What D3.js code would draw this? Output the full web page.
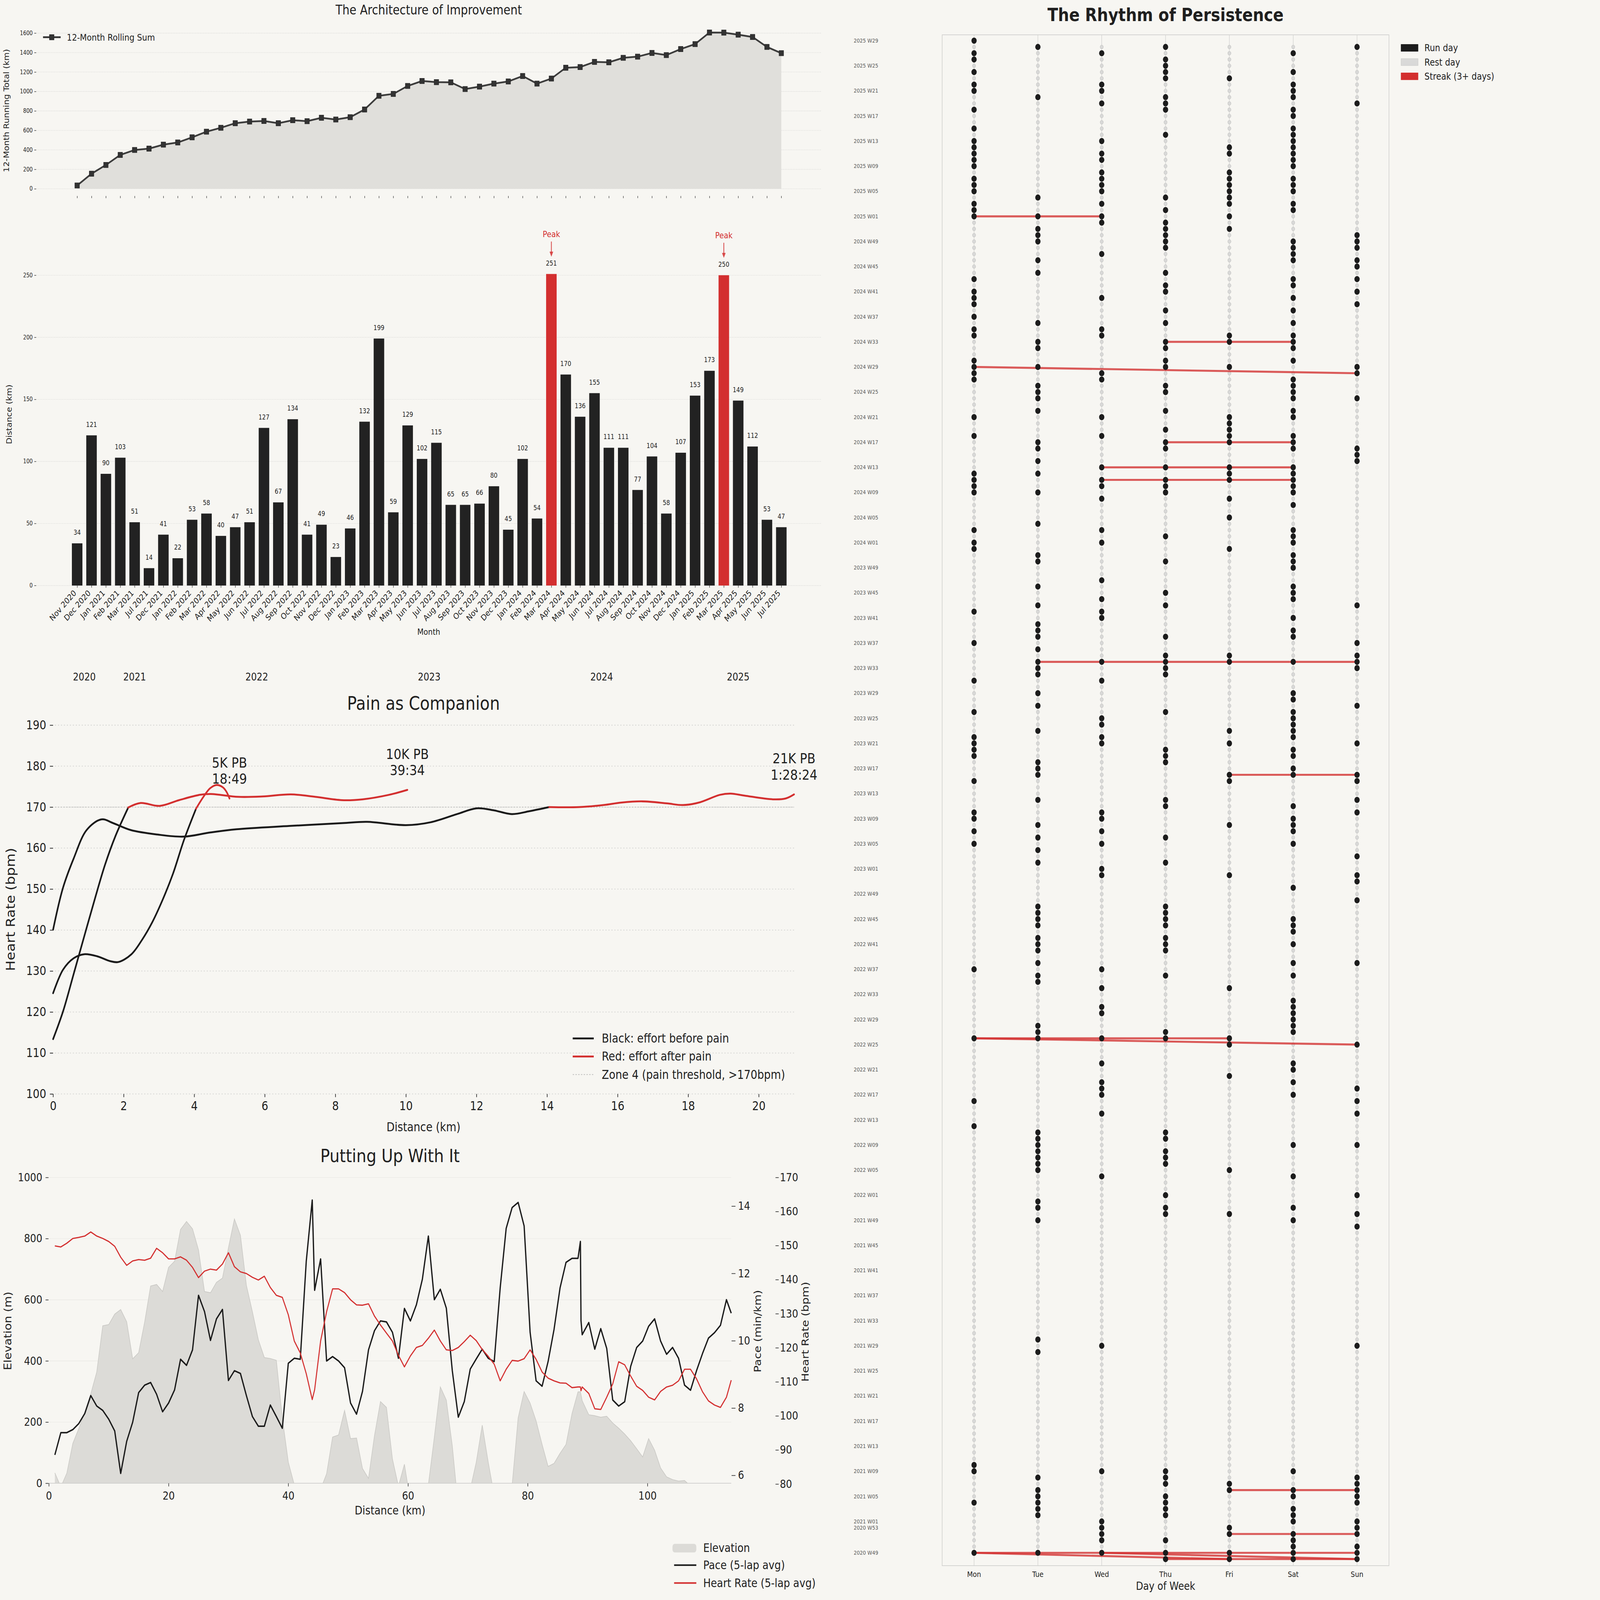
<!DOCTYPE html>
<html>
<head>
<meta charset="utf-8">
<script src="https://cdn.jsdelivr.net/npm/d3@7"></script>
<style>
  html, body { margin: 0; padding: 0; background: #f7f6f2; overflow: hidden; }
  #container svg { display: block; width: 100vw; height: 100vh; }
</style>
</head>
<body>
<div id="container"></div>
<script>
/* CONSTANTS AND GLOBALS */
const width = 6990, height = 6017;
const bg = "#f7f6f2", ink = "#1f1f1f", red = "#d32f2f", gridCol = "#d6d6d4";
const font = "'DejaVu Sans', 'Liberation Sans', sans-serif";

/* DATA: monthly distance */
const months = ["Nov 2020","Dec 2020","Jan 2021","Feb 2021","Mar 2021","Jul 2021","Dec 2021","Jan 2022","Feb 2022","Mar 2022",
  "Apr 2022","May 2022","Jun 2022","Jul 2022","Aug 2022","Sep 2022","Oct 2022","Nov 2022","Dec 2022","Jan 2023",
  "Feb 2023","Mar 2023","Apr 2023","May 2023","Jun 2023","Jul 2023","Aug 2023","Sep 2023","Oct 2023","Nov 2023",
  "Dec 2023","Jan 2024","Feb 2024","Mar 2024","Apr 2024","May 2024","Jun 2024","Jul 2024","Aug 2024","Sep 2024",
  "Oct 2024","Nov 2024","Dec 2024","Jan 2025","Feb 2025","Mar 2025","Apr 2025","May 2025","Jun 2025","Jul 2025"];
const monthlyKm = [34,121,90,103,51,14,41,22,53,58,40,47,51,127,67,134,41,49,23,46,
  132,199,59,129,102,115,65,65,66,80,45,102,54,251,170,136,155,111,111,77,
  104,58,107,153,173,250,149,112,53,47];
const rollingKm = [34,155,245,348,399,413,454,476,529,587,627,674,691,697,674,705,695,730,712,736,
  815,956,975,1057,1108,1096,1094,1025,1050,1081,1103,1159,1081,1133,1244,1251,1304,1300,1346,1358,
  1396,1374,1436,1487,1606,1605,1584,1560,1458,1394];
const peakMonths = ["Mar 2024","Mar 2025"];
const rollingTicks = [0,200,400,600,800,1000,1200,1400,1600];
const distanceTicks = [0,50,100,150,200,250];

/* DATA: heart rate over distance for the three PB runs */
const pb5kBefore = [[0,124.6],[0.28,130.3],[0.58,133.1],[0.88,134.1],[1.25,133.6],[1.62,132.4],[1.85,132.2],[2.22,134.1],
  [2.52,137.6],[2.81,141.9],[3.11,147.5],[3.4,153.8],[3.71,162.0],[4.05,169.6]];
const pb5kAfter = [[4.05,169.6],[4.26,172.5],[4.45,174.6],[4.63,175.4],[4.8,174.9],[4.91,173.8],[5.0,172.1]];
const pb10kBefore = [[0,113.4],[0.28,120.1],[0.58,129.2],[0.88,138.4],[1.18,147.5],[1.47,155.9],[1.77,163],[2.13,169.9]];
const pb10kAfter = [[2.13,169.9],[2.48,171.0],[3.02,170.3],[3.57,171.7],[4.16,173.0],[4.47,173.2],[5.25,172.5],[5.94,172.6],
  [6.74,173.1],[7.43,172.5],[8.18,171.7],[8.77,171.9],[9.52,173.0],[10.04,174.2]];
const pb21kBefore = [[0,140.1],[0.28,150.3],[0.58,157.4],[0.95,164.4],[1.37,167.0],[1.7,166.1],[2.2,164.4],[2.96,163.3],
  [3.71,162.8],[4.45,163.8],[5.2,164.6],[6.7,165.4],[8.2,166.1],[8.9,166.4],[10.0,165.6],[10.7,166.3],[11.45,168.3],
  [12.0,169.7],[12.5,169.2],[13.0,168.3],[13.5,169.0],[14.06,170]];
const pb21kAfter = [[14.06,170],[14.9,170],[15.6,170.5],[16.1,171.1],[16.7,171.4],[17.4,170.9],[17.85,170.5],[18.3,171.1],
  [18.9,173.0],[19.2,173.3],[19.6,172.8],[20.4,171.9],[20.76,172.1],[21.0,173.1]];
const pbNames = ["5K PB","10K PB","21K PB"];
const pbTimes = ["18:49","39:34","1:28:24"];
const zoneThreshold = 170;
const hrTicks = [100,110,120,130,140,150,160,170,180,190];
const kmTicks = [0,2,4,6,8,10,12,14,16,18,20];

/* DATA: ultra laps */
const lapKm = [1,2,3,4,5,6,7,8,9,10,11,12,13,14,15,16,17,18,19,20,21,22,23,24,25,26,27,28,29,30,
  31,32,33,34,35,36,37,38,39,40,41,42,43,44,
  44.4,45.4,46.4,47.4,48.4,49.4,50.4,51.4,52.4,53.4,54.4,55.4,56.4,57.4,58.4,59.4,60.4,61.4,62.4,63.4,
  64.4,65.4,66.4,67.4,68.4,69.4,70.4,71.4,72.4,73.4,74.4,75.4,76.4,77.4,78.4,79.4,80.4,81.4,82.4,83.4,
  84.4,85.4,86.4,87.4,88.4,88.8,88.9,89.1,
  90.2,91.2,92.2,93.2,94.2,95.2,96.2,97.2,98.2,99.2,100.2,101.2,102.2,103.2,104.2,105.2,106.2,107.2,
  108.2,109.2,110.2,111.2,112.2,113.2,114];
const lapPace = [6.61,7.27,7.27,7.36,7.54,7.84,8.37,8.06,7.93,7.67,7.32,6.06,7.01,7.58,8.46,8.68,8.76,8.41,7.89,8.15,
  8.54,9.45,9.27,9.73,11.35,10.87,10.01,10.65,10.93,8.82,9.11,9.03,8.37,7.75,7.46,7.46,8.09,7.75,7.40,9.33,
  9.48,9.45,12.36,14.18,
  11.5,12.43,9.40,9.53,9.40,9.2,8.15,7.82,8.5,9.73,10.3,10.59,10.56,10.25,9.48,10.96,10.59,11.07,11.83,13.11,
  11.22,11.53,10.97,9.11,7.73,8.19,9.16,9.46,9.75,9.48,9.38,11.57,13.34,13.96,14.11,13.41,10.25,8.81,8.65,9.38,
  10.34,11.57,12.33,12.45,12.45,12.95,10.6,10.18,
  10.54,9.75,10.36,9.77,8.24,8.06,8.19,9.24,9.8,9.99,10.43,10.65,9.99,9.6,9.8,9.48,8.68,8.53,
  9.11,9.62,10.08,10.24,10.46,11.22,10.82];
const lapHr = [149.9,149.6,150.7,152.1,152.4,152.8,154.0,152.8,152.1,151.2,149.8,146.6,144.2,145.5,145.9,145.7,146.3,149.2,147.9,146.1,
  146.1,146.7,145.7,143.6,140.6,142.5,143.1,142.8,144.6,147.9,143.8,142.3,141.8,140.7,139.9,141.0,137.7,135.4,134.8,129.7,
  122.0,118.5,112.4,104.8,
  107.7,122.0,130.6,137.3,137.3,136.2,134.1,132.6,132.5,132.9,129.3,126.7,124.3,122.0,117.8,114.4,117.6,120.1,120.7,122.8,
  125.2,122.0,119.4,119.2,120.1,121.8,123.7,122.1,119.5,117.5,115.2,110.3,113.7,116.3,116.1,116.8,119.4,116.6,112.9,111.1,
  110.3,109.7,109.6,108.3,108.5,108.5,107.4,108.5,
  106.6,102.1,101.9,105.5,109.4,115.9,115.0,111.7,108.7,107.5,105.5,104.7,107.2,108.5,109.0,110.3,113.7,113.7,
  110.9,107.1,104.4,103.2,102.5,105.5,110.5];
const lapElev = [34,-12,33,130,179,232,292,364,515,519,553,568,528,407,427,527,645,650,627,706,
  726,830,856,832,763,627,623,657,671,770,864,811,647,561,469,411,408,402,214,69,
  -5,-120,-150,-90,
  -60,-20,31,151,158,238,146,148,48,16,156,267,248,79,-10,62,-60,-90,-70,-5,
  151,315,272,122,-80,-90,-20,69,190,69,-40,-70,-40,-5,214,300,262,204,127,55,
  65,98,127,228,299,299,290,270,
  224,221,216,219,197,180,161,139,113,86,146,108,50,21,12,7,9,-9,
  -40,-60,-60,-50,-50,-50,-50];
const elevTicks = [0,200,400,600,800,1000];
const paceTicks = [6,8,10,12,14];
const lapHrTicks = [80,90,100,110,120,130,140,150,160,170];
const ultraKmTicks = [0,20,40,60,80,100];

/* DATA: run calendar (row 0 = 2025 W29 at the top, row 242 = 2020 W48 at the bottom) */
const days = ["Mon","Tue","Wed","Thu","Fri","Sat","Sun"];
const weekCount = 243;
const lastDayTopRow = 0;      // data ends on a Monday
const firstDayBottomRow = 3;  // data starts on a Thursday
const monRuns = [0,2,3,5,7,8,11,14,16,17,18,19,20,22,23,24,26,27,28,38,40,41,42,44,46,47,51,52,53,54,60,63,69,70,71,72,
  78,80,81,91,96,102,107,111,112,113,114,118,123,124,126,128,148,159,169,173,227,228,233,241];
const tueRuns = [1,9,25,28,30,31,32,35,37,45,48,49,52,55,56,57,59,64,65,67,69,72,77,82,83,87,90,93,94,95,97,99,100,101,
  104,106,110,115,116,117,121,125,127,129,131,138,139,140,141,143,144,145,147,149,150,157,158,159,174,175,176,177,178,
  179,180,185,186,188,207,209,229,231,232,233,234,235,241];
const wedRuns = [2,7,8,10,16,18,19,21,22,23,24,26,28,29,34,41,46,47,53,54,60,63,68,70,71,73,78,80,86,89,91,92,99,102,
  108,109,111,112,123,124,126,128,132,133,148,151,154,155,159,163,166,167,168,171,181,208,228,236,237,238,239,241];
const thuRuns = [1,3,4,5,6,9,10,11,15,25,27,29,30,31,32,33,37,39,40,43,45,48,49,51,52,55,56,59,62,64,65,68,70,71,72,
  79,83,88,90,95,98,99,100,101,107,113,114,115,121,122,127,131,138,139,140,141,143,144,145,149,158,159,174,175,177,
  178,179,184,186,187,228,229,230,232,233,234,235,239,241,242];
const friRuns = [6,17,18,21,22,23,24,25,26,28,30,47,48,52,60,61,62,63,64,68,69,70,73,76,81,98,99,110,112,117,118,125,
  133,151,159,160,165,180,187,230,231,237,238,241,242];
const satRuns = [2,5,7,8,9,11,12,14,15,16,17,18,19,20,22,23,24,26,27,32,33,34,35,38,39,41,43,45,47,48,49,51,54,55,56,
  57,59,60,63,64,65,68,69,70,71,72,74,78,79,80,82,83,84,87,88,89,92,94,95,99,104,105,107,108,109,110,111,113,114,116,
  117,122,124,125,126,128,135,140,141,142,144,147,149,153,154,155,156,157,158,163,164,166,168,176,181,186,188,228,
  231,232,234,235,236,238,239,240,241,242];
const sunRuns = [1,10,31,32,33,35,36,38,40,42,52,53,57,65,66,67,90,96,98,99,100,106,112,117,118,121,123,130,133,134,
  137,147,160,167,169,171,176,184,187,189,208,229,230,231,232,233,236,237,238,240,241,242];
// streaks: [start day, start row, end day, end row]
const streaks = [[0,28,2,28],[3,48,5,48],[0,52,6,53],[3,64,5,64],[2,68,5,68],[2,70,5,70],[1,99,6,99],[4,117,6,117],
  [0,159,4,159],[0,159,6,160],[4,231,6,231],[4,238,6,238],[0,241,6,241],[0,241,4,242],[2,241,6,242],[3,242,6,242]];
const weekTickLabels = ["2025 W29","2025 W25","2025 W21","2025 W17","2025 W13","2025 W09","2025 W05","2025 W01",
  "2024 W49","2024 W45","2024 W41","2024 W37","2024 W33","2024 W29","2024 W25","2024 W21","2024 W17","2024 W13","2024 W09","2024 W05","2024 W01",
  "2023 W49","2023 W45","2023 W41","2023 W37","2023 W33","2023 W29","2023 W25","2023 W21","2023 W17","2023 W13","2023 W09","2023 W05","2023 W01",
  "2022 W49","2022 W45","2022 W41","2022 W37","2022 W33","2022 W29","2022 W25","2022 W21","2022 W17","2022 W13","2022 W09","2022 W05","2022 W01",
  "2021 W49","2021 W45","2021 W41","2021 W37","2021 W33","2021 W29","2021 W25","2021 W21","2021 W17","2021 W13","2021 W09","2021 W05","2021 W01",
  "2020 W53","2020 W49"];
const weekTickRows = d3.range(0, 237, 4).concat([237, 241]);

/* CREATE SVG ELEMENT */
// the drawing is laid out on a 6990 x 6017 grid and stretched to whatever the window is
const svg = d3.select("#container")
  .append("svg")
  .attr("viewBox", `0 0 ${width} ${height}`)
  .attr("preserveAspectRatio", "none")
  .style("background", bg)
  .style("font-family", font);

svg.append("rect").attr("width", width).attr("height", height).attr("fill", bg);

function addText(g, x, y, str, size, anchor = "middle", color = ink) {
  return g.append("text")
    .attr("x", x).attr("y", y)
    .attr("font-size", size)
    .attr("text-anchor", anchor)
    .attr("dominant-baseline", "central")
    .attr("fill", color)
    .text(str);
}
function vText(g, x, y, str, size) {
  return g.append("text")
    .attr("transform", `translate(${x},${y}) rotate(-90)`)
    .attr("font-size", size)
    .attr("text-anchor", "middle")
    .attr("dominant-baseline", "central")
    .attr("fill", ink)
    .text(str);
}
function styleAxis(sel, size, tickW = 2) {
  sel.attr("font-family", font).attr("font-size", size);
  sel.select(".domain").remove();
  sel.selectAll(".tick line").attr("stroke", "#333").attr("stroke-width", tickW);
  sel.selectAll(".tick text").attr("fill", ink);
}
function hGrid(g, scale, ticks, x0, x1, dash, color = gridCol, w = 2) {
  g.selectAll(null).data(ticks).join("line")
    .attr("x1", x0).attr("x2", x1)
    .attr("y1", d => scale(d)).attr("y2", d => scale(d))
    .attr("stroke", color).attr("stroke-width", w)
    .attr("stroke-dasharray", dash);
}
const plain = d3.format("d");

/* ===== 1. THE ARCHITECTURE OF IMPROVEMENT ===== */
const xMonth = d3.scaleLinear().domain([-2.82, 51.75]).range([160, 3586]);
const yRoll = d3.scaleLinear().domain([0, 1600]).range([710, 124.5]);
const gTop = svg.append("g");

addText(gTop, 1873, 37, "The Architecture of Improvement", 49);
hGrid(gTop, yRoll, rollingTicks, 160, 3586, "3,4");

gTop.append("path")
  .datum(rollingKm)
  .attr("d", d3.area().x((d, i) => xMonth(i)).y0(yRoll(0)).y1(d => yRoll(d)))
  .attr("fill", "#e0dfdb");

gTop.append("path")
  .datum(rollingKm)
  .attr("d", d3.line().x((d, i) => xMonth(i)).y(d => yRoll(d)))
  .attr("fill", "none").attr("stroke", "#333").attr("stroke-width", 6.5).attr("opacity", 0.95);

gTop.selectAll(".mk").data(rollingKm).join("rect")
  .attr("x", (d, i) => xMonth(i) - 10).attr("y", d => yRoll(d) - 10)
  .attr("width", 20).attr("height", 20)
  .attr("fill", "#333").attr("stroke", "#222").attr("stroke-width", 1.5);

gTop.append("g")
  .attr("transform", "translate(158,0)")
  .call(d3.axisLeft(yRoll).tickValues(rollingTicks).tickFormat(plain).tickSize(8).tickPadding(7))
  .call(s => styleAxis(s, 22));

gTop.append("g")
  .attr("transform", "translate(0,737)")
  .call(d3.axisBottom(xMonth).tickValues(d3.range(months.length)).tickSize(8).tickFormat(""))
  .call(s => styleAxis(s, 22));

vText(gTop, 28, 416, "12-Month Running Total (km)", 32);

// legend
gTop.append("line").attr("x1", 188).attr("x2", 265).attr("y1", 140).attr("y2", 140)
  .attr("stroke", "#333").attr("stroke-width", 6.5);
gTop.append("rect").attr("x", 216).attr("y", 130).attr("width", 20).attr("height", 20)
  .attr("fill", "#333").attr("stroke", "#222").attr("stroke-width", 1.5);
addText(gTop, 292, 140, "12-Month Rolling Sum", 35, "start");

/* ===== 2. MONTHLY DISTANCE BARS ===== */
const yDist = d3.scaleLinear().domain([0, 250]).range([2202, 1035]);
const barW = 46;
const gBar = svg.append("g");

hGrid(gBar, yDist, distanceTicks, 160, 3586, "3,4");

gBar.selectAll(".bar").data(monthlyKm).join("rect")
  .attr("x", (d, i) => xMonth(i) - barW / 2)
  .attr("y", d => yDist(d))
  .attr("width", barW)
  .attr("height", d => yDist(0) - yDist(d))
  .attr("fill", (d, i) => peakMonths.includes(months[i]) ? red : "#222");

gBar.selectAll(".val").data(monthlyKm).join("text")
  .attr("x", (d, i) => xMonth(i)).attr("y", d => yDist(d) - 32)
  .attr("text-anchor", "middle").attr("font-size", 25).attr("fill", ink)
  .text(d => d);

// peak annotations
months.forEach((m, i) => {
  if (!peakMonths.includes(m)) return;
  const x = xMonth(i), yTop = yDist(monthlyKm[i]);
  addText(gBar, x, yTop - 150, "Peak", 32, "middle", red);
  gBar.append("line").attr("x1", x).attr("x2", x).attr("y1", yTop - 122).attr("y2", yTop - 80)
    .attr("stroke", red).attr("stroke-width", 3.5).attr("opacity", 0.85);
  gBar.append("path")
    .attr("d", `M${x - 8},${yTop - 84} L${x + 8},${yTop - 84} L${x},${yTop - 65} Z`)
    .attr("fill", red).attr("opacity", 0.85);
});

gBar.append("g")
  .attr("transform", "translate(158,0)")
  .call(d3.axisLeft(yDist).tickValues(distanceTicks).tickFormat(plain).tickSize(8).tickPadding(7))
  .call(s => styleAxis(s, 22));

gBar.append("g")
  .attr("transform", "translate(0,2202)")
  .call(d3.axisBottom(xMonth).tickValues(d3.range(months.length)).tickSize(8).tickFormat(""))
  .call(s => styleAxis(s, 22));

gBar.selectAll(".mlab").data(months).join("text")
  .attr("transform", (d, i) => `translate(${xMonth(i) - 2},${2232}) rotate(-45)`)
  .attr("text-anchor", "end").attr("font-size", 31).attr("fill", ink)
  .text(d => d);

vText(gBar, 41, 1558, "Distance (km)", 32);
addText(gBar, 1873, 2376, "Month", 32);

// year labels centred under each year's months
const yearGroups = d3.groups(months.map((m, i) => ({ y: m.slice(-4), i })), d => d.y);
yearGroups.forEach(([yr, items]) => {
  addText(gBar, xMonth(d3.mean(items, d => d.i)), 2545, yr, 39);
});

/* ===== 3. PAIN AS COMPANION ===== */
const xPain = d3.scaleLinear().domain([0, 21]).range([232, 3469]);
const yPain = d3.scaleLinear().domain([100, 190]).range([4114, 2727]);
const gPain = svg.append("g");

addText(gPain, 1850, 2645, "Pain as Companion", 70);
hGrid(gPain, yPain, hrTicks, 240, 3469, "5,8", gridCol, 3);
gPain.append("line")
  .attr("x1", 240).attr("x2", 3469)
  .attr("y1", yPain(zoneThreshold)).attr("y2", yPain(zoneThreshold))
  .attr("stroke", "#c4c4c2").attr("stroke-width", 3).attr("stroke-dasharray", "7,5");

const painLine = d3.line().x(d => xPain(d[0])).y(d => yPain(d[1])).curve(d3.curveCatmullRom.alpha(0.5));
[pb5kBefore, pb10kBefore, pb21kBefore].forEach(s => {
  gPain.append("path").datum(s).attr("d", painLine)
    .attr("fill", "none").attr("stroke", "#1a1a1a").attr("stroke-width", 7).attr("stroke-linecap", "round");
});
const afters = [pb5kAfter, pb10kAfter, pb21kAfter];
afters.forEach(s => {
  gPain.append("path").datum(s).attr("d", painLine)
    .attr("fill", "none").attr("stroke", red).attr("stroke-width", 7).attr("stroke-linecap", "round");
});

afters.forEach((s, i) => {
  const last = s[s.length - 1];
  const yc = yPain(last[1] + 6.8);
  addText(gPain, xPain(last[0]), yc - 30, pbNames[i], 53);
  addText(gPain, xPain(last[0]), yc + 31, pbTimes[i], 53);
});

gPain.append("g")
  .attr("transform", "translate(232,0)")
  .call(d3.axisLeft(yPain).tickValues(hrTicks).tickSize(14).tickPadding(16))
  .call(s => styleAxis(s, 46, 3));
gPain.append("g")
  .attr("transform", "translate(0,4114)")
  .call(d3.axisBottom(xPain).tickValues(kmTicks).tickSize(12).tickPadding(16))
  .call(s => styleAxis(s, 46, 3));

addText(gPain, 1850, 4239, "Distance (km)", 46);
vText(gPain, 46, 3420, "Heart Rate (bpm)", 53);

// legend
const painLegend = [
  { label: "Black: effort before pain", color: "#1a1a1a", dash: null, w: 7 },
  { label: "Red: effort after pain", color: red, dash: null, w: 7 },
  { label: "Zone 4 (pain threshold, >170bpm)", color: "#c4c4c2", dash: "6,6", w: 3 }
];
painLegend.forEach((d, i) => {
  const y = 3905 + i * 68;
  gPain.append("line").attr("x1", 2502).attr("x2", 2594).attr("y1", y).attr("y2", y)
    .attr("stroke", d.color).attr("stroke-width", d.w).attr("stroke-dasharray", d.dash);
  addText(gPain, 2629, y, d.label, 46, "start");
});

/* ===== 4. PUTTING UP WITH IT ===== */
const xUltra = d3.scaleLinear().domain([0, 114]).range([213.5, 3194.6]);
const yElev = d3.scaleLinear().domain([0, 1000]).range([5578, 4428]);
const yPace = d3.scaleLinear().domain([5.766, 14.852]).range([5578, 4428]);
const yLapHr = d3.scaleLinear().domain([80, 170]).range([5581, 4428]);
const gUltra = svg.append("g");

addText(gUltra, 1704, 4346, "Putting Up With It", 69);

svg.append("clipPath").attr("id", "ultraClip")
  .append("rect").attr("x", 213.5).attr("y", 4300).attr("width", 2981).attr("height", 1278);

hGrid(gUltra, yElev, elevTicks, 213.5, 3194.6, null, "#ebeae6");

const elevData = lapKm.map((k, i) => [k, lapElev[i]]);
gUltra.append("path").datum(elevData)
  .attr("clip-path", "url(#ultraClip)")
  .attr("d", d3.area().x(d => xUltra(d[0])).y0(yElev(0)).y1(d => yElev(d[1])))
  .attr("fill", "#dcdbd7");
gUltra.append("path").datum(elevData)
  .attr("clip-path", "url(#ultraClip)")
  .attr("d", d3.line().x(d => xUltra(d[0])).y(d => yElev(d[1])))
  .attr("fill", "none").attr("stroke", "#c9c8c4").attr("stroke-width", 2.5);
gUltra.append("line").attr("x1", 213.5).attr("x2", 3194.6).attr("y1", 5578).attr("y2", 5578)
  .attr("stroke", "#cfcfcd").attr("stroke-width", 2.5);

gUltra.append("path").datum(lapKm.map((k, i) => [k, lapPace[i]]))
  .attr("d", d3.line().x(d => xUltra(d[0])).y(d => yPace(d[1])))
  .attr("fill", "none").attr("stroke", "#1a1a1a").attr("stroke-width", 5.5).attr("stroke-linejoin", "round");
gUltra.append("path").datum(lapKm.map((k, i) => [k, lapHr[i]]))
  .attr("d", d3.line().x(d => xUltra(d[0])).y(d => yLapHr(d[1])))
  .attr("fill", "none").attr("stroke", red).attr("stroke-width", 4.5).attr("stroke-linejoin", "round");

gUltra.append("g")
  .attr("transform", "translate(212,0)")
  .call(d3.axisLeft(yElev).tickValues(elevTicks).tickFormat(plain).tickSize(13).tickPadding(14))
  .call(s => styleAxis(s, 42, 2.5));
gUltra.append("g")
  .attr("transform", "translate(0,5578)")
  .call(d3.axisBottom(xUltra).tickValues(ultraKmTicks).tickSize(12).tickPadding(20))
  .call(s => styleAxis(s, 42, 2.5));
gUltra.append("g")
  .attr("transform", "translate(3196,0)")
  .call(d3.axisRight(yPace).tickValues(paceTicks).tickSize(17).tickPadding(11))
  .call(s => styleAxis(s, 42, 2.5));
gUltra.append("g")
  .attr("transform", "translate(3388,0)")
  .call(d3.axisRight(yLapHr).tickValues(lapHrTicks).tickSize(14).tickPadding(5))
  .call(s => styleAxis(s, 42, 2.5));

addText(gUltra, 1704, 5681, "Distance (km)", 44);
vText(gUltra, 34, 5005, "Elevation (m)", 44);
vText(gUltra, 3310, 5006, "Pace (min/km)", 43);
vText(gUltra, 3517, 5008, "Heart Rate (bpm)", 43);

// legend
gUltra.append("rect").attr("x", 2938).attr("y", 5806).attr("width", 104).attr("height", 32).attr("rx", 10)
  .attr("fill", "#dcdbd7");
addText(gUltra, 3072, 5822, "Elevation", 44, "start");
gUltra.append("line").attr("x1", 2945).attr("x2", 3042).attr("y1", 5886).attr("y2", 5886)
  .attr("stroke", "#1a1a1a").attr("stroke-width", 6);
addText(gUltra, 3072, 5886, "Pace (5-lap avg)", 44, "start");
gUltra.append("line").attr("x1", 2945).attr("x2", 3042).attr("y1", 5953).attr("y2", 5953)
  .attr("stroke", red).attr("stroke-width", 6);
addText(gUltra, 3072, 5953, "Heart Rate (5-lap avg)", 44, "start");

/* ===== 5. THE RHYTHM OF PERSISTENCE ===== */
const xDay = d3.scaleLinear().domain([-0.5, 6.5]).range([4116, 6068]);
const yWeek = d3.scaleLinear().domain([-0.93, 243.05]).range([131, 5888]);
const gCal = svg.append("g");

addText(gCal, 5092, 55, "The Rhythm of Persistence", 68).attr("font-weight", "bold");

gCal.append("rect").attr("x", 4116).attr("y", 131).attr("width", 1952).attr("height", 5757)
  .attr("fill", "none").attr("stroke", "#cfcfcd").attr("stroke-width", 2.5);

gCal.selectAll(".col").data(days).join("line")
  .attr("x1", (d, i) => xDay(i)).attr("x2", (d, i) => xDay(i))
  .attr("y1", 131).attr("y2", 5888)
  .attr("stroke", "#cfcfcd").attr("stroke-width", 2);

const runLists = [monRuns, tueRuns, wedRuns, thuRuns, friRuns, satRuns, sunRuns];
const cells = [];
for (let r = 0; r < weekCount; r++) {
  for (let d = 0; d < 7; d++) {
    if (r === 0 && d > lastDayTopRow) continue;
    if (r === weekCount - 1 && d < firstDayBottomRow) continue;
    cells.push({ r, d, run: runLists[d].includes(r) });
  }
}

gCal.selectAll(".rest").data(cells.filter(c => !c.run)).join("circle")
  .attr("cx", c => xDay(c.d)).attr("cy", c => yWeek(c.r)).attr("r", 7)
  .attr("fill", "#d9d9d8").attr("stroke", "#c2c2c0").attr("stroke-width", 1.5);

gCal.selectAll(".streak").data(streaks).join("line")
  .attr("x1", s => xDay(s[0])).attr("y1", s => yWeek(s[1]))
  .attr("x2", s => xDay(s[2])).attr("y2", s => yWeek(s[3]))
  .attr("stroke", red).attr("stroke-width", 7.5).attr("opacity", 0.78);

gCal.selectAll(".run").data(cells.filter(c => c.run)).join("circle")
  .attr("cx", c => xDay(c.d)).attr("cy", c => yWeek(c.r)).attr("r", 11.5)
  .attr("fill", "#1c1c1c");

gCal.selectAll(".wk").data(weekTickLabels).join("text")
  .attr("x", 3837).attr("y", (d, i) => yWeek(weekTickRows[i]))
  .attr("text-anchor", "end").attr("dominant-baseline", "central")
  .attr("font-size", 21).attr("fill", "#5a5a5a")
  .text(d => d);

days.forEach((d, i) => addText(gCal, xDay(i), 5920, d, 29));
addText(gCal, 5092, 5965, "Day of Week", 41);

// legend
const calLegend = [
  { label: "Run day", fill: "#1c1c1c", stroke: "#111" },
  { label: "Rest day", fill: "#d9d9d8", stroke: "#c8c8c6" },
  { label: "Streak (3+ days)", fill: red, stroke: red }
];
calLegend.forEach((d, i) => {
  const y = 180 + i * 53.5;
  gCal.append("rect").attr("x", 6121).attr("y", y - 13).attr("width", 74).attr("height", 26)
    .attr("fill", d.fill).attr("stroke", d.stroke).attr("stroke-width", 1.5);
  addText(gCal, 6223, y, d.label, 36, "start");
});
</script>
</body>
</html>
